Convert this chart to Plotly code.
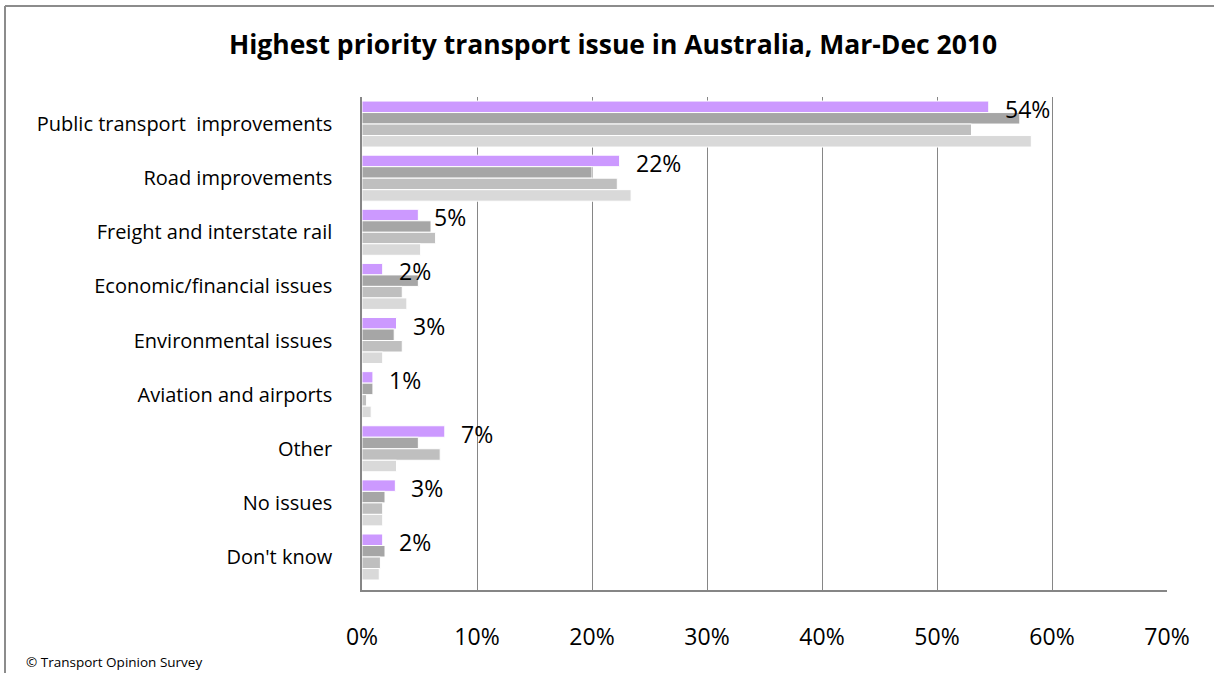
import plotly.graph_objects as go

categories = ["Public transport  improvements", "Road improvements", "Freight and interstate rail",
              "Economic/financial issues", "Environmental issues", "Aviation and airports",
              "Other", "No issues", "Don't know"]
series_names = ["Series 1", "Series 2", "Series 3", "Series 4"]
series_values = [
    [54.5, 22.4, 4.9, 1.8, 3.0, 0.95, 7.2, 2.9, 1.8],
    [57.2, 20.0, 6.0, 4.9, 2.8, 0.95, 4.9, 2.0, 2.0],
    [53.0, 22.2, 6.4, 3.5, 3.5, 0.4, 6.8, 1.8, 1.6],
    [58.2, 23.4, 5.1, 3.9, 1.8, 0.8, 3.0, 1.8, 1.5],
]
label_texts = ["54%", "22%", "5%", "2%", "3%", "1%", "7%", "3%", "2%"]
x_ticks = [0, 10, 20, 30, 40, 50, 60, 70]
x_tick_labels = ["0%", "10%", "20%", "30%", "40%", "50%", "60%", "70%"]
colors = ["#CC99FF", "#A6A6A6", "#BFBFBF", "#D9D9D9"]

FONT = "Open Sans"
W, H = 1214, 673
L, R, T, B = 362, 1167, 97, 590   # plot area in page pixels

def px_x(x):
    return (x - L) / (R - L)

def px_y(y):
    return (B - y) / (B - T)

fig = go.Figure()
for name, vals, col in zip(series_names, series_values, colors):
    fig.add_trace(go.Bar(y=categories, x=vals, name=name, orientation="h",
                         marker=dict(color=col, line=dict(color="white", width=1)),
                         hoverinfo="x+y"))

for cat, v, t in zip(categories, series_values[0], label_texts):
    fig.add_annotation(x=v, y=cat, text=t, showarrow=False, xanchor="left", yanchor="middle",
                       xshift=14, yshift=15, font=dict(family=FONT, size=23, color="black"))

# outer border (left and top)
fig.add_shape(type="line", xref="paper", yref="paper", x0=px_x(5), x1=px_x(1230),
              y0=px_y(6), y1=px_y(6), line=dict(color="#8C8C8C", width=2))
fig.add_shape(type="line", xref="paper", yref="paper", x0=px_x(5), x1=px_x(5),
              y0=px_y(6), y1=px_y(700), line=dict(color="#8C8C8C", width=2))

fig.add_annotation(xref="paper", yref="paper", x=px_x(24), y=px_y(662),
                   text="© Transport Opinion Survey", showarrow=False, xanchor="left",
                   yanchor="middle", font=dict(family=FONT, size=13.5, color="black"))

fig.update_layout(
    width=W, height=H,
    margin=dict(l=L, r=W - R, t=T, b=H - B, pad=0),
    paper_bgcolor="white", plot_bgcolor="white",
    barmode="group", bargap=0.15, bargroupgap=0,
    showlegend=False,
    title=dict(text="<b>Highest priority transport issue in Australia, Mar-Dec 2010</b>",
               x=0.505, xanchor="center", y=1 - 45 / H, yanchor="middle",
               font=dict(family=FONT, size=26.5, color="black")),
    font=dict(family=FONT, size=20, color="black"),
)
fig.update_xaxes(range=[0, 70], tickvals=x_ticks, ticktext=x_tick_labels,
                 showgrid=True, gridcolor="#868686", gridwidth=1.3,
                 showline=True, linecolor="#868686", linewidth=1.5, mirror=False,
                 ticks="", ticklabelstandoff=26, zeroline=False,
                 tickfont=dict(family=FONT, size=23))
fig.update_yaxes(autorange="reversed", showline=True, linecolor="#868686", linewidth=1.5,
                 ticks="", ticklabelstandoff=24, showgrid=False,
                 tickfont=dict(family=FONT, size=20))

fig.write_html("out.html", config={"displayModeBar": False},
               post_script="document.body.style.margin='0';document.body.style.overflow='hidden';")
